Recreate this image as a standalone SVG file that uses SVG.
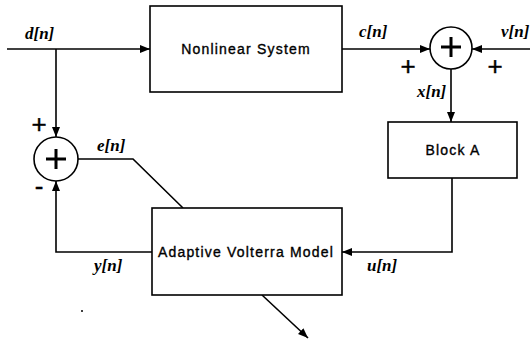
<svg xmlns="http://www.w3.org/2000/svg" width="530" height="343" viewBox="0 0 530 343">
<defs>
<marker id="arr" markerUnits="userSpaceOnUse" markerWidth="10" markerHeight="8" refX="10" refY="4" orient="auto">
<path d="M0,0 L10,4 L0,8 z" fill="#000"/>
</marker>
<style>
.box{fill:#fff;stroke:#000;stroke-width:1.6}
.sum{fill:#fff;stroke:#000;stroke-width:1.6}
.plus{stroke:#000;stroke-width:3;fill:none}
.wire{fill:none;stroke:#000;stroke-width:1.6}
.bt{font-family:"Liberation Sans",Arial,sans-serif;font-size:14px;letter-spacing:1.2px;text-anchor:middle;fill:#000;stroke:#000;stroke-width:0.35}
.lab{font-family:"Liberation Serif","Times New Roman",serif;font-size:17px;font-style:italic;font-weight:bold;fill:#000}
.sg{font-family:"Liberation Sans",Arial,sans-serif;font-size:26px;fill:#000;stroke:#000;stroke-width:0.4;text-anchor:middle}
</style>
</defs>
<rect width="530" height="343" fill="#fff"/>
<g id="connectors">
<path class="wire" d="M7,49 H150" marker-end="url(#arr)"/>
<path class="wire" d="M56,49 V137" marker-end="url(#arr)"/>
<path class="wire" d="M342,49 H430" marker-end="url(#arr)"/>
<path class="wire" d="M530,49 H472" marker-end="url(#arr)"/>
<path class="wire" d="M451,69 V122" marker-end="url(#arr)"/>
<path class="wire" d="M452,178 V252 H342" marker-end="url(#arr)"/>
<path class="wire" d="M152,252 H56 V181" marker-end="url(#arr)"/>
<path class="wire" d="M78,159 H133 L183,208"/>
<path class="wire" d="M262,295 L308,338" marker-end="url(#arr)"/>
</g>
<g id="nonlinear">
<rect class="box" x="150" y="6" width="192" height="86"/>
<text class="bt" x="246" y="54">Nonlinear System</text>
</g>
<g id="sum1">
<circle class="sum" cx="451" cy="48" r="21"/>
<path class="plus" d="M441,47 H461 M451,37 V57"/>
</g>
<g id="blockA">
<rect class="box" x="388" y="122" width="129" height="56"/>
<text class="bt" x="453" y="155">Block A</text>
</g>
<g id="sum2">
<circle class="sum" cx="56" cy="159" r="22"/>
<path class="plus" d="M46,159 H66 M56,149 V169"/>
</g>
<g id="volterra">
<rect class="box" x="152" y="208" width="190" height="87"/>
<text class="bt" x="246" y="257">Adaptive Volterra Model</text>
</g>
<g id="labels">
<text class="lab" x="25" y="39">d[n]</text>
<text class="lab" x="359" y="37">c[n]</text>
<text class="lab" x="501" y="37">v[n]</text>
<text class="lab" x="417" y="97">x[n]</text>
<text class="lab" x="97" y="151">e[n]</text>
<text class="lab" x="94" y="271">y[n]</text>
<text class="lab" x="367" y="271">u[n]</text>
<text class="sg" x="408" y="75">+</text>
<text class="sg" x="495" y="75">+</text>
<text class="sg" x="39" y="133">+</text>
<text class="sg" x="39" y="195">-</text>
</g>
<circle cx="82" cy="311" r="1" fill="#000"/>
</svg>
